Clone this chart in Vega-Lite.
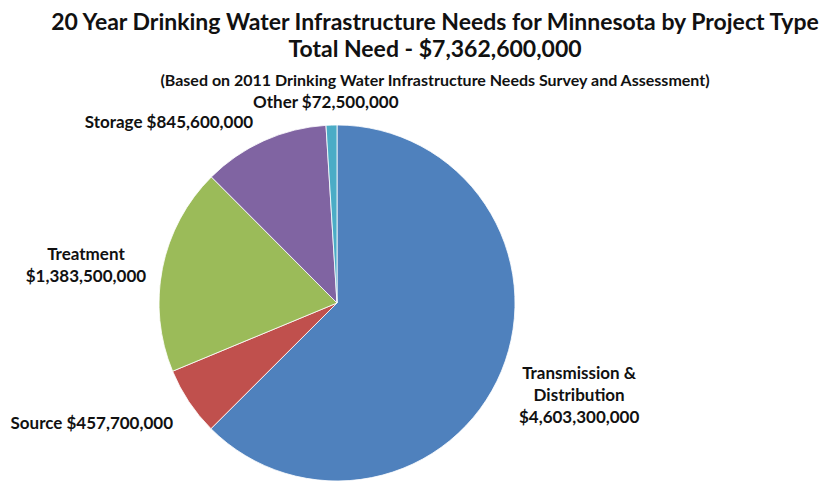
{
  "$schema": "https://vega.github.io/schema/vega-lite/v6.json",
  "width": 356,
  "height": 356,
  "autosize": {"type": "none"},
  "padding": {"left": 159, "top": 125, "right": 312, "bottom": 2},
  "background": "white",
  "title": {
    "text": ["20 Year Drinking Water Infrastructure Needs for Minnesota by Project Type", "Total Need - $7,362,600,000"],
    "subtitle": "(Based on 2011 Drinking Water Infrastructure Needs Survey and Assessment)",
    "anchor": "middle",
    "dx": 98,
    "font": "Lato",
    "fontSize": 23,
    "fontWeight": "bold",
    "color": "#111111",
    "lineHeight": 27,
    "subtitleFont": "Lato",
    "subtitleFontSize": 16,
    "subtitleFontWeight": "bold",
    "subtitleColor": "#111111",
    "subtitlePadding": 11,
    "offset": -84
  },
  "data": {
    "values": [
      {"category": "Transmission & Distribution", "value": 4603300000, "rank": 1, "label": "Transmission &\nDistribution\n$4,603,300,000"},
      {"category": "Source", "value": 457700000, "rank": 2, "label": "Source $457,700,000"},
      {"category": "Treatment", "value": 1383500000, "rank": 3, "label": "Treatment\n$1,383,500,000"},
      {"category": "Storage", "value": 845600000, "rank": 4, "label": "Storage $845,600,000"},
      {"category": "Other", "value": 72500000, "rank": 5, "label": "Other $72,500,000"}
    ]
  },
  "encoding": {
    "theta": {"field": "value", "type": "quantitative", "stack": true},
    "order": {"field": "rank", "type": "quantitative"},
    "detail": {"field": "category", "type": "nominal"}
  },
  "layer": [
    {
      "mark": {"type": "arc", "stroke": "#ffffff", "strokeWidth": 0.8},
      "encoding": {
        "color": {
          "field": "category",
          "type": "nominal",
          "legend": null,
          "scale": {
            "domain": ["Transmission & Distribution", "Source", "Treatment", "Storage", "Other"],
            "range": ["#4F81BD", "#C0504D", "#9BBB59", "#8064A2", "#4BACC6"]
          }
        }
      }
    },
    {
      "mark": {"type": "text", "radius": 260, "dx": 2, "dy": -29, "font": "Lato", "fontSize": 17, "fontWeight": "bold", "color": "#111111", "lineBreak": "\n", "lineHeight": 22, "align": "center", "baseline": "middle"},
      "encoding": {"text": {"condition": {"test": "datum.category === 'Transmission & Distribution'", "field": "label"}, "value": ""}}
    },
    {
      "mark": {"type": "text", "radius": 260, "dx": -29, "dy": -23, "font": "Lato", "fontSize": 17, "fontWeight": "bold", "color": "#111111", "lineBreak": "\n", "lineHeight": 22, "align": "center", "baseline": "middle"},
      "encoding": {"text": {"condition": {"test": "datum.category === 'Source'", "field": "label"}, "value": ""}}
    },
    {
      "mark": {"type": "text", "radius": 255, "dx": -1, "dy": 2, "font": "Lato", "fontSize": 17, "fontWeight": "bold", "color": "#111111", "lineBreak": "\n", "lineHeight": 22, "align": "center", "baseline": "middle"},
      "encoding": {"text": {"condition": {"test": "datum.category === 'Treatment'", "field": "label"}, "value": ""}}
    },
    {
      "mark": {"type": "text", "radius": 200, "dx": -86, "dy": 2, "font": "Lato", "fontSize": 17, "fontWeight": "bold", "color": "#111111", "lineBreak": "\n", "lineHeight": 22, "align": "center", "baseline": "middle"},
      "encoding": {"text": {"condition": {"test": "datum.category === 'Storage'", "field": "label"}, "value": ""}}
    },
    {
      "mark": {"type": "text", "radius": 200, "dx": -5, "dy": 0, "font": "Lato", "fontSize": 17, "fontWeight": "bold", "color": "#111111", "lineBreak": "\n", "lineHeight": 22, "align": "center", "baseline": "middle"},
      "encoding": {"text": {"condition": {"test": "datum.category === 'Other'", "field": "label"}, "value": ""}}
    }
  ],
  "config": {"view": {"stroke": null}}
}
